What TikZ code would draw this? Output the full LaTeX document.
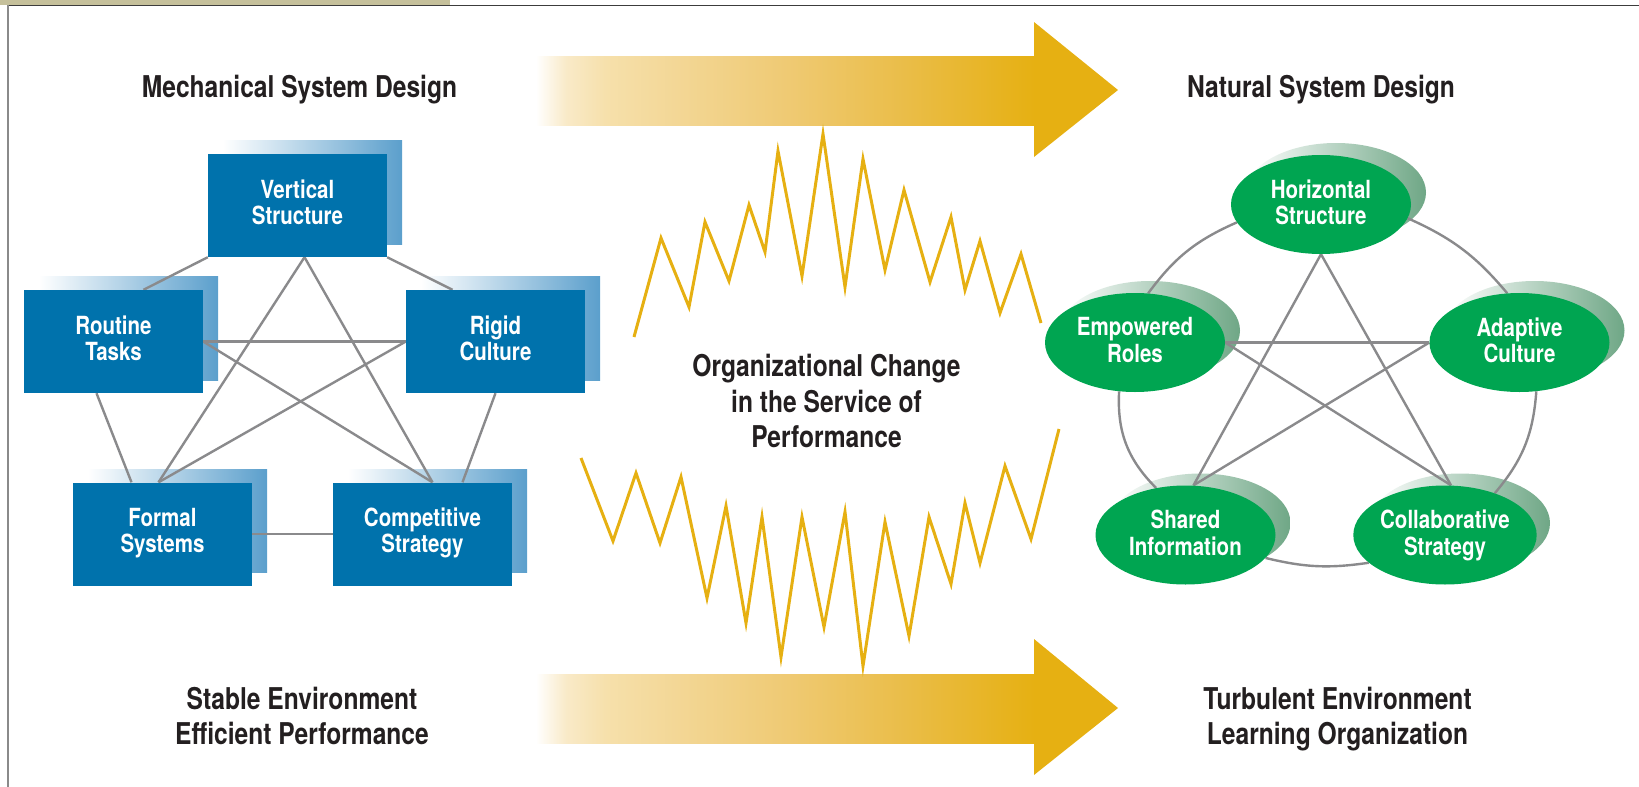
\documentclass[tikz,border=0pt]{standalone}
\usepackage{fontspec}
\setmainfont{TeX Gyre Heros}[FakeStretch=0.82]
\usetikzlibrary{backgrounds,shapes.geometric}
\definecolor{boxblue}{HTML}{0072AC}
\definecolor{shadblue}{HTML}{5B9FCC}
\definecolor{ellgreen}{HTML}{00A551}
\definecolor{shadgreen}{HTML}{6FA786}
\definecolor{linegray}{HTML}{8A8A8C}
\definecolor{gold}{HTML}{E6B012}
\definecolor{txtdark}{HTML}{231F20}
\definecolor{beige}{HTML}{C5C09B}
\definecolor{framegray}{HTML}{8A8A8A}
\definecolor{topline}{HTML}{3C3C3C}
\definecolor{fadeA}{HTML}{F9EAC8}
\definecolor{fadeB}{HTML}{F6E0AB}
\definecolor{fadeC}{HTML}{F3D796}
\definecolor{fadeD}{HTML}{EFCA74}
\definecolor{fadeE}{HTML}{EABD48}
\pgfdeclarehorizontalshading{goldfade}{100bp}{color(0bp)=(white); color(25bp)=(white); color(28bp)=(fadeA); color(32bp)=(fadeB); color(39bp)=(fadeC); color(50bp)=(fadeD); color(62bp)=(fadeE); color(75bp)=(gold); color(100bp)=(gold)}

\begin{document}
\begin{tikzpicture}[x=1pt,y=-1pt,
	mbox/.style={rectangle, fill=boxblue, text=white, minimum width=179pt, minimum height=103pt, inner sep=0pt, text depth=7pt, align=center, font=\bfseries\fontsize{25}{26}\selectfont},
	nell/.style={ellipse, fill=ellgreen, text=white, minimum width=180pt, minimum height=99pt, inner sep=0pt, text depth=5pt, align=center, font=\bfseries\fontsize{25}{26.5}\selectfont},
	head/.style={text=txtdark, inner sep=0pt, align=center, font=\bfseries\fontsize{30}{35.5}\selectfont},
	link/.style={draw=linegray, line width=2.4pt},
	zig/.style={draw=gold, line width=3pt}]
	
	\useasboundingbox (0,0) rectangle (1639,787);
	\fill[beige] (0,0) rectangle (450,5);
	\draw[topline, line width=1.3pt] (7,5.5) -- (1639,5.5);
	\draw[framegray, line width=2pt] (8,5) -- (8,787);
	
	\shade[shading=goldfade] (536,56) rectangle (1035,125);
	\fill[gold] (1034,56) -- (1034,22) -- (1118,90) -- (1034,157) -- (1034,125) -- cycle;
	\shade[shading=goldfade] (536,674) rectangle (1035,743);
	\fill[gold] (1034,674) -- (1034,639) -- (1118,708) -- (1034,775) -- (1034,743) -- cycle;
	
	\draw[zig] (634,337) -- (661,238) -- (689,307) -- (705,222) -- (729,281) -- (749,205) -- (765,252) -- (778,151) -- (802,276) -- (823,134) -- (845,287) -- (863,159) -- (885,270) -- (904,190) -- (930,282) -- (951,217) -- (965,290) -- (980,241) -- (1000,313) -- (1021,254) -- (1041,323);
	\draw[zig] (581,458) -- (613,541) -- (636,473) -- (660,543) -- (681,477) -- (707,598) -- (726,506) -- (746,623) -- (762,517) -- (781,657) -- (802,517) -- (824,627) -- (845,512) -- (863,666) -- (885,522) -- (909,636) -- (929,517) -- (951,584) -- (965,503) -- (980,563) -- (1005,466) -- (1031,539) -- (1059,429);
	
	\node[head, anchor=base] (mech) at (299.5,97.3) {Mechanical System Design};
	\node[head, anchor=base] (natu) at (1321,97.3) {Natural System Design};
	\node[head, anchor=north] (chg) at (826.5,354) {Organizational Change\\in the Service of\\Performance};
	\node[head, anchor=north] (stab) at (302,686.5) {Stable Environment\\Efficient Performance};
	\node[head, anchor=north] (turb) at (1337.5,686.5) {Turbulent Environment\\Learning Organization};
	
	\node[mbox] (vs) at (297.5,205.5) {Vertical\\Structure};
	\node[mbox] (rt) at (113.5,341.5) {Routine\\Tasks};
	\node[mbox] (rc) at (495.5,341.5) {Rigid\\Culture};
	\node[mbox] (fs) at (162.5,534) {Formal\\Systems};
	\node[mbox] (cs) at (422.5,534) {Competitive\\Strategy};
	
	\node[nell] (hs) at (1321,204.5) {Horizontal\\Structure};
	\node[nell] (er) at (1135,342.5) {Empowered\\Roles};
	\node[nell] (ac) at (1519.5,342.5) {Adaptive\\Culture};
	\node[nell] (si) at (1185.5,535) {Shared\\Information};
	\node[nell] (co) at (1445,535) {Collaborative\\Strategy};
	
	\begin{scope}[on background layer]
		\foreach \n in {vs,rt,rc,fs,cs}
			\shade[left color=white, right color=shadblue] ([xshift=15pt,yshift=13pt]\n.south west) rectangle ([xshift=15pt,yshift=13pt]\n.north east);
		\foreach \n in {hs,er,ac,si,co}
			\shade[left color=white, right color=shadgreen] ([xshift=15pt,yshift=12pt]\n.center) ellipse [x radius=90pt, y radius=49.5pt];
		
		\draw[link] (vs.south west) -- ([xshift=30pt]rt.north);
		\draw[link] (vs.south east) -- ([xshift=-43pt]rc.north);
		\draw[link] ([xshift=-17pt]rt.south) -- ([xshift=-31pt]fs.north);
		\draw[link] (rc.south) -- ([xshift=40pt]cs.north);
		\draw[link] (fs.east) -- (cs.west);
		\draw[link] ([xshift=7pt]vs.south) -- ([xshift=-4pt]fs.north);
		\draw[link] ([xshift=7pt]vs.south) -- ([xshift=10pt]cs.north);
		\draw[link] (rt.east) -- (rc.west);
		\draw[link] (rt.east) -- ([xshift=10pt]cs.north);
		\draw[link] (rc.west) -- ([xshift=-4pt]fs.north);
		
		\draw[link] (hs.192) to[bend right=15] (er.75);
		\draw[link] (er.252) to[bend right=24] (si.122);
		\draw[link] (si.344) to[bend right=11] (co.200);
		\draw[link] (co.40) to[bend right=18] (ac.289);
		\draw[link] (ac.104) to[bend right=13] (hs.351);
		\draw[link] (hs.south) -- ([xshift=8pt]si.north);
		\draw[link] (hs.south) -- ([xshift=6pt]co.north);
		\draw[link] (er.east) -- (ac.west);
		\draw[link] (er.east) -- ([xshift=6pt]co.north);
		\draw[link] (ac.west) -- ([xshift=8pt]si.north);
	\end{scope}
\end{tikzpicture}
\end{document}
